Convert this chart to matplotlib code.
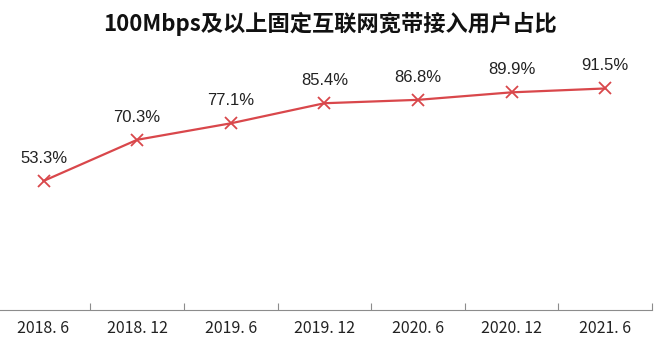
import numpy as np
import matplotlib
matplotlib.use("Agg")
from matplotlib import pyplot as plt

# data
periods = ["2018. 6", "2018. 12", "2019. 6", "2019. 12", "2020. 6", "2020. 12", "2021. 6"]
share = [53.3, 70.3, 77.1, 85.4, 86.8, 89.9, 91.5]

plt.rcParams['font.family'] = ['Noto Sans CJK SC', 'DejaVu Sans']

fig = plt.figure(figsize=(6.6, 3.63), dpi=100)
ax = fig.add_axes([-0.005, 0.146, 0.993, 0.667])

x = np.arange(len(share))
red = "#D9474B"
ax.plot(x, share, color=red, linewidth=1.6, marker="x", markersize=9,
        markeredgewidth=1.3)

for xi, v in zip(x, share):
    ax.annotate(f"{v:.1f}%", (xi, v), xytext=(0, 11), textcoords="offset points",
                ha="center", va="bottom", fontsize=12, color="#222222",
                family="Liberation Sans")

ax.set_xlim(-0.5, len(share) - 0.5)
ax.set_ylim(0, 100)
ax.set_yticks([])
for s in ["left", "right", "top"]:
    ax.spines[s].set_visible(False)
ax.spines["bottom"].set_color("#8c8c8c")

ax.set_xticks(x + 0.5, minor=False)
ax.set_xticklabels([])
ax.tick_params(axis="x", direction="in", length=5, color="#8c8c8c")
ax.set_xticks(x, minor=True)
ax.set_xticklabels(periods, minor=True, fontsize=11.5, color="#222222")
ax.tick_params(axis="x", which="minor", length=0, pad=7)

fig.text(0.5, 0.935, "100Mbps及以上固定互联网宽带接入用户占比", ha="center", va="center",
         fontsize=16, fontweight="bold", color="#111111")

fig.savefig("out.png", dpi=100)
